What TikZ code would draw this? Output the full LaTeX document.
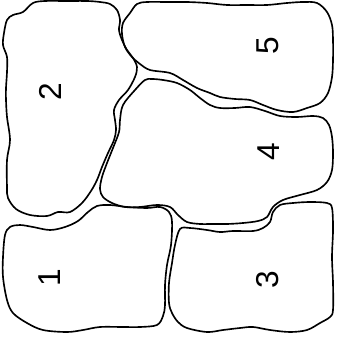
\documentclass[tikz,border=0pt]{standalone}
\usepackage{fontspec}
\setmainfont{Liberation Sans}
\usepackage{tikz}
\usetikzlibrary{positioning}

\begin{document}
\begin{tikzpicture}[
  x=0.03cm, y=-0.03cm,
  stone/.style={draw=black, line width=1.4pt, line join=round},
  num/.style={rotate=90, inner sep=0pt, font=\fontsize{27}{27}\selectfont}
]
  \useasboundingbox (0,0) rectangle (339,347);
  % stone 2 (upper left)
  \draw[stone] plot[smooth cycle, tension=0.55] coordinates {
    (7,20) (13,15) (23,12) (33,3) (45,1) (65,1) (87,1) (100,2) (110,4) (117,10)
    (120,20) (119,30) (122,40) (127,50) (133,58) (137,67) (135,77) (128,90)
    (119,100) (114,110) (115,120) (116,130) (114,140) (108,153) (102,167)
    (97,180) (91,191) (82,203) (70,212) (58,212) (47,216) (30,215) (16,209)
    (8,198) (7,187) (7,160) (10,140) (7,117) (6,100) (6,88) (7,72) (7,57)
    (3,45) (4,33)};
  % stone 5 (upper right)
  \draw[stone] plot[smooth cycle, tension=0.55] coordinates {
    (137,4) (147,2) (167,2) (187,2) (207,3) (227,5) (247,5) (267,5) (287,3)
    (303,2) (317,3) (327,12) (332,25) (333,40) (333,60) (332,77) (328,93)
    (320,103) (307,108) (293,112) (277,110) (263,105) (250,100) (235,99)
    (220,97) (210,93) (197,88) (183,80) (170,73) (150,70) (140,64) (132,57)
    (125,47) (122,34) (123,23) (130,13)};
  % stone 4 (middle right)
  \draw[stone] plot[smooth cycle, tension=0.55] coordinates {
    (145,80) (152,79) (163,80) (177,83) (190,90) (200,98) (210,105) (220,108)
    (235,108) (250,107) (265,111) (280,116) (297,117) (313,116) (323,118)
    (329,125) (332,137) (333,153) (332,170) (327,182) (317,190) (300,195)
    (283,200) (273,207) (267,217) (258,221) (243,223) (227,224) (210,224)
    (200,224) (187,222) (178,215) (170,207) (157,205) (140,207) (125,207)
    (112,203) (103,197) (100,189) (102,177) (107,163) (113,148) (119,132)
    (120,120) (123,105) (135,90)};
  % stone 1 (lower left)
  \draw[stone] plot[smooth cycle, tension=0.55] coordinates {
    (10,227) (20,225) (33,227) (50,230) (65,227) (78,221) (88,212) (97,206)
    (110,205) (127,207) (147,208) (160,207) (169,212) (172,222) (171,245)
    (167,265) (165,285) (165,305) (163,316) (157,325) (140,327) (123,327)
    (100,327) (83,330) (67,332) (43,330) (27,323) (13,313) (7,300) (3,277)
    (3,257) (5,235)};
  % stone 3 (lower right)
  \draw[stone] plot[smooth cycle, tension=0.55] coordinates {
    (180,229) (190,228) (207,230) (220,232) (233,231) (253,231) (263,228)
    (270,222) (273,212) (280,205) (293,203) (310,202) (327,203) (332,208)
    (333,230) (332,257) (333,283) (333,310) (330,317) (320,323) (307,330)
    (290,332) (270,330) (253,327) (240,328) (223,330) (207,332) (187,328)
    (178,322) (172,313) (169,303) (169,283) (172,263) (175,245)};
  % numbers
  \node[num] (n1) at (50,278) {1};
  \node[num] (n2) at (50,92) {2};
  \node[num] (n3) at (268,280) {3};
  \node[num] (n4) at (269,152) {4};
  \node[num] (n5) at (268,46) {5};
\end{tikzpicture}
\end{document}
